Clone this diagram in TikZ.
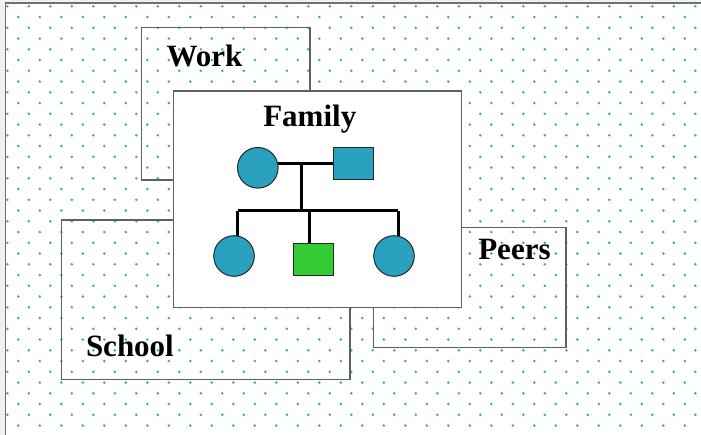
\documentclass[tikz,border=0pt]{standalone}
\usepackage{fontspec}
\setmainfont{Liberation Serif}
\definecolor{teal}{RGB}{43,161,192}
\definecolor{child}{RGB}{51,204,51}
\definecolor{dotc}{RGB}{58,168,204}
\definecolor{edge}{RGB}{112,112,112}
\definecolor{areac}{RGB}{96,96,96}
\begin{document}
\begin{tikzpicture}[x=1bp,y=-1bp,
  every node/.style={inner sep=0pt,outer sep=0pt},
  area/.style={draw=areac,line width=1.4bp,rectangle},
  lbl/.style={anchor=base west,font=\fontsize{31bp}{36bp}\selectfont\bfseries},
  female/.style={circle,draw=black!85,line width=1bp,fill=teal,minimum size=40.6bp},
  male/.style={rectangle,draw=black!85,line width=1bp,minimum width=40.7bp,minimum height=32.7bp},
  link/.style={line width=3bp,black}]
\useasboundingbox (0,0) rectangle (701,435);
% window background and its top/left edge
\fill[black!6] (0,0) rectangle (701,435);
\fill[white] (5.5,3.3) rectangle (701,435);
\draw[edge,line width=1.6bp] (5.5,435) -- (5.5,3.3) -- (701,3.3);
% staggered dot pattern
\foreach \k in {0,...,39}{
  \pgfmathsetmacro{\yy}{6.3+10.75*\k}
  \pgfmathsetmacro{\xo}{isodd(\k) ? 18.3 : 7.3}
  \foreach \j in {0,...,32}{
    \pgfmathsetmacro{\xx}{\xo+21.5*\j}
    \fill[dotc] (\xx,\yy) circle[radius=1.45bp];
  }
}
% context areas
\node[area,minimum width=168.3bp,minimum height=152.7bp] (work) at (225.85,103.65) {};
\node[area,minimum width=288.3bp,minimum height=159.3bp] (school) at (205.85,299.65) {};
\node[area,minimum width=192.3bp,minimum height=120.4bp] (peers) at (469.85,287.5) {};
\node[area,fill=white,minimum width=288.4bp,minimum height=216.7bp] (family) at (317.5,199.35) {};
% labels
\node[lbl] (worklbl) at (166.5,66.5) {Work};
\node[lbl] (familylbl) at (263.3,126.7) {Family};
\node[lbl] (peerslbl) at (478.3,260) {Peers};
\node[lbl] (schoollbl) at (86,356) {School};
% pedigree junctions
\coordinate (mar) at (301.7,163.3);
\coordinate (sib) at (301.7,211);
\coordinate (sibL) at (237.7,211);
\coordinate (sibM) at (309.3,211);
\coordinate (sibR) at (398.3,211);
% pedigree lines
\draw[link] (257.8,163.3) -- (353.6,163.3);
\draw[link] (mar) -- (sib);
\draw[link] (sibL) -- (sibR);
\draw[link] (sibL) -- (237.7,240);
\draw[link] (sibM) -- (309.3,250);
\draw[link] (sibR) -- (398.3,240);
% pedigree members
\node[female] (mother) at (257.8,167.8) {};
\node[male,fill=teal] (father) at (353.6,163.6) {};
\node[female] (kid1) at (234,256) {};
\node[male,fill=child] (kid2) at (313.6,259.6) {};
\node[female] (kid3) at (394,256) {};
\end{tikzpicture}
\end{document}
